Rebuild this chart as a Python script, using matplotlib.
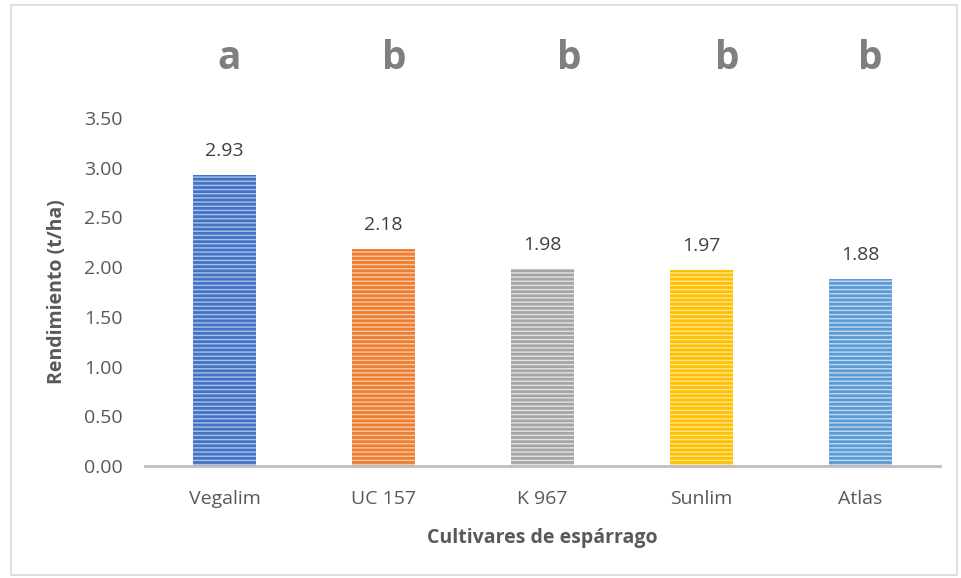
import matplotlib.pyplot as plt
from matplotlib.patches import Rectangle

# --- data ---
cultivares = ["Vegalim", "UC 157", "K 967", "Sunlim", "Atlas"]
rendimiento = [2.93, 2.18, 1.98, 1.97, 1.88]
letras = ["a", "b", "b", "b", "b"]
yticks = [0.0, 0.5, 1.0, 1.5, 2.0, 2.5, 3.0, 3.5]

# --- style ---
colores = ["#4472c4", "#ed7d31", "#a5a5a5", "#ffc000", "#5b9bd5"]
rayas = ["#a9c0ea", "#f9c7a3", "#e3e3e3", "#ffe594", "#c0d9f0"]
letra_dx = [0.03, 0.07, 0.17, 0.16, 0.06]
txt = "#595959"

plt.rcParams['font.family'] = ['Open Sans', 'DejaVu Sans']
plt.rcParams['hatch.linewidth'] = 1.0

fig = plt.figure(figsize=(9.61, 5.78), dpi=100)
fig.patches.append(Rectangle((0.011, 0.006), 0.985, 0.985, transform=fig.transFigure,
                             fill=False, edgecolor="#d9d9d9", linewidth=1.2))

ax = fig.add_axes([145 / 961, 1 - 466 / 578, 795 / 961, 348 / 578])
x = range(len(cultivares))
for i, (v, c, r) in enumerate(zip(rendimiento, colores, rayas)):
    ax.bar(i, v, width=0.39, color=c, edgecolor=r, hatch="----", linewidth=0, zorder=2)
    ax.text(i, v + 0.15, f"{v:.2f}", ha="center", va="bottom", fontsize=14, color="#404040")
    ax.text(i + letra_dx[i], 4.1, letras[i], ha="center", va="center", fontsize=28,
            fontweight="bold", color="#7f7f7f", clip_on=False)

ax.set_xlim(-0.5, len(cultivares) - 0.5)
ax.set_ylim(0, 3.5)
ax.set_yticks(yticks)
ax.set_yticklabels([f"{t:.2f}" for t in yticks])
ax.set_xticks(list(x))
ax.set_xticklabels(cultivares)
ax.tick_params(axis="both", length=0, labelsize=14, colors=txt)
ax.tick_params(axis="x", pad=17)
ax.tick_params(axis="y", pad=16)
for s in ["top", "right", "left"]:
    ax.spines[s].set_visible(False)
ax.spines["bottom"].set_color("#bfbfbf")
ax.spines["bottom"].set_linewidth(2)

ax.set_ylabel("Rendimiento (t/ha)", fontsize=14, fontweight="bold", color=txt, labelpad=12)
ax.set_xlabel("Cultivares de espárrago", fontsize=14, fontweight="bold", color=txt, labelpad=15)

fig.savefig("out.png", dpi=100)
